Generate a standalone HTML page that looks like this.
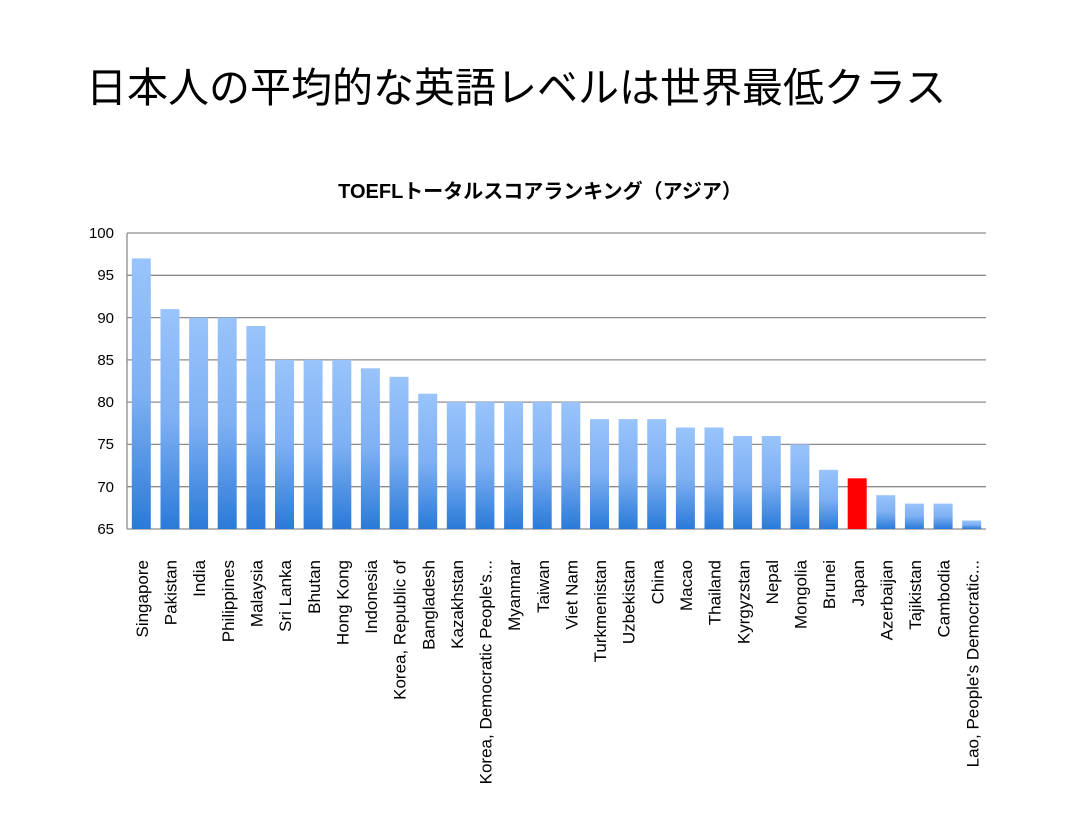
<!DOCTYPE html>
<html><head><meta charset="utf-8"><style>
body{margin:0;background:#fff;}
svg text{font-family:"Liberation Sans","Noto Sans CJK JP",sans-serif;fill:#000;}
</style></head><body>
<svg width="1080" height="810" xmlns="http://www.w3.org/2000/svg">
<defs><linearGradient id="g" x1="0" y1="0" x2="0" y2="1"><stop offset="0" stop-color="#99c4fb"/><stop offset="0.5" stop-color="#7eb0f3"/><stop offset="1" stop-color="#2a7ad8"/></linearGradient></defs>
<text x="86" y="102" font-size="41">日本人の平均的な英語レベルは世界最低クラス</text>
<text x="540" y="198" font-size="20" font-weight="bold" text-anchor="middle">TOEFLトータルスコアランキング（アジア）</text>
<g stroke="#8c8c8c" stroke-width="1.3">
<line x1="127" x2="986" y1="233" y2="233"/>
<line x1="127" x2="986" y1="275.3" y2="275.3"/>
<line x1="127" x2="986" y1="317.6" y2="317.6"/>
<line x1="127" x2="986" y1="359.9" y2="359.9"/>
<line x1="127" x2="986" y1="402.1" y2="402.1"/>
<line x1="127" x2="986" y1="444.4" y2="444.4"/>
<line x1="127" x2="986" y1="486.7" y2="486.7"/>
<line x1="127" x2="986" y1="529" y2="529"/>
<line x1="127" x2="127" y1="233" y2="529"/>
</g>
<g font-size="15" text-anchor="end">
<text x="114" y="238">100</text>
<text x="114" y="280">95</text>
<text x="114" y="323">90</text>
<text x="114" y="365">85</text>
<text x="114" y="407">80</text>
<text x="114" y="449">75</text>
<text x="114" y="492">70</text>
<text x="114" y="534">65</text>
</g>
<g fill="url(#g)">
<rect x="131.8" y="258.4" width="19" height="270.6"/>
<rect x="160.5" y="309.1" width="19" height="219.9"/>
<rect x="189.1" y="317.6" width="19" height="211.4"/>
<rect x="217.7" y="317.6" width="19" height="211.4"/>
<rect x="246.4" y="326.0" width="19" height="203.0"/>
<rect x="275.0" y="359.9" width="19" height="169.1"/>
<rect x="303.6" y="359.9" width="19" height="169.1"/>
<rect x="332.3" y="359.9" width="19" height="169.1"/>
<rect x="360.9" y="368.3" width="19" height="160.7"/>
<rect x="389.5" y="376.8" width="19" height="152.2"/>
<rect x="418.2" y="393.7" width="19" height="135.3"/>
<rect x="446.8" y="402.1" width="19" height="126.9"/>
<rect x="475.4" y="402.1" width="19" height="126.9"/>
<rect x="504.1" y="402.1" width="19" height="126.9"/>
<rect x="532.7" y="402.1" width="19" height="126.9"/>
<rect x="561.3" y="402.1" width="19" height="126.9"/>
<rect x="590.0" y="419.1" width="19" height="109.9"/>
<rect x="618.6" y="419.1" width="19" height="109.9"/>
<rect x="647.2" y="419.1" width="19" height="109.9"/>
<rect x="675.9" y="427.5" width="19" height="101.5"/>
<rect x="704.5" y="427.5" width="19" height="101.5"/>
<rect x="733.1" y="436.0" width="19" height="93.0"/>
<rect x="761.8" y="436.0" width="19" height="93.0"/>
<rect x="790.4" y="444.4" width="19" height="84.6"/>
<rect x="819.0" y="469.8" width="19" height="59.2"/>
<rect x="847.7" y="478.3" width="19" height="50.7" fill="#ff0000"/>
<rect x="876.3" y="495.2" width="19" height="33.8"/>
<rect x="904.9" y="503.6" width="19" height="25.4"/>
<rect x="933.6" y="503.6" width="19" height="25.4"/>
<rect x="962.2" y="520.5" width="19" height="8.5"/>
</g>
<g font-size="17" text-anchor="end">
<text transform="translate(148,560) rotate(-90)">Singapore</text>
<text transform="translate(176.6,560) rotate(-90)">Pakistan</text>
<text transform="translate(205.2,560) rotate(-90)">India</text>
<text transform="translate(233.9,560) rotate(-90)">Philippines</text>
<text transform="translate(262.5,560) rotate(-90)">Malaysia</text>
<text transform="translate(291.1,560) rotate(-90)">Sri Lanka</text>
<text transform="translate(319.8,560) rotate(-90)">Bhutan</text>
<text transform="translate(348.4,560) rotate(-90)">Hong Kong</text>
<text transform="translate(377.0,560) rotate(-90)">Indonesia</text>
<text transform="translate(405.7,560) rotate(-90)">Korea, Republic of</text>
<text transform="translate(434.3,560) rotate(-90)">Bangladesh</text>
<text transform="translate(462.9,560) rotate(-90)">Kazakhstan</text>
<text transform="translate(491.6,560) rotate(-90)">Korea, Democratic People's...</text>
<text transform="translate(520.2,560) rotate(-90)">Myanmar</text>
<text transform="translate(548.8,560) rotate(-90)">Taiwan</text>
<text transform="translate(577.5,560) rotate(-90)">Viet Nam</text>
<text transform="translate(606.1,560) rotate(-90)">Turkmenistan</text>
<text transform="translate(634.7,560) rotate(-90)">Uzbekistan</text>
<text transform="translate(663.4,560) rotate(-90)">China</text>
<text transform="translate(692.0,560) rotate(-90)">Macao</text>
<text transform="translate(720.6,560) rotate(-90)">Thailand</text>
<text transform="translate(749.3,560) rotate(-90)">Kyrgyzstan</text>
<text transform="translate(777.9,560) rotate(-90)">Nepal</text>
<text transform="translate(806.5,560) rotate(-90)">Mongolia</text>
<text transform="translate(835.2,560) rotate(-90)">Brunei</text>
<text transform="translate(863.8,560) rotate(-90)">Japan</text>
<text transform="translate(892.4,560) rotate(-90)">Azerbaijan</text>
<text transform="translate(921.1,560) rotate(-90)">Tajikistan</text>
<text transform="translate(949.7,560) rotate(-90)">Cambodia</text>
<text transform="translate(978.3,560) rotate(-90)">Lao, People's Democratic...</text>
</g>
</svg>
</body></html>
